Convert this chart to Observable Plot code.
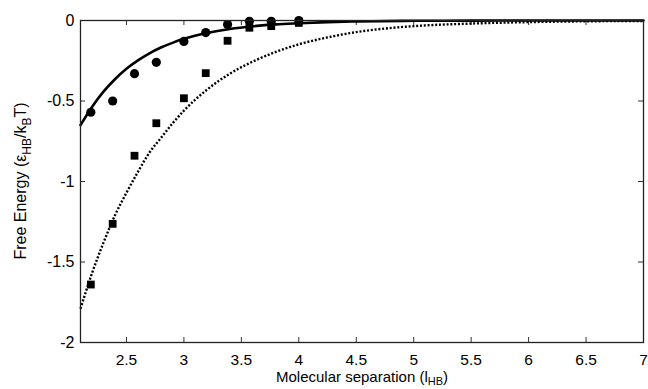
<!DOCTYPE html>
<html><head><meta charset="utf-8">
<script src="https://cdn.jsdelivr.net/npm/d3@7"></script>
<script src="https://cdn.jsdelivr.net/npm/@observablehq/plot@0.6"></script>
<style>html,body{margin:0;padding:0;background:#fff;}</style>
</head><body><div id="chart"></div>
<script>
// Simulation points (circles)
const circleX = [2.19, 2.38, 2.57, 2.76, 3.00, 3.19, 3.38, 3.57, 3.76, 4.00];
const circleY = [-0.57, -0.50, -0.33, -0.26, -0.13, -0.075, -0.025, -0.005, -0.005, 0.0];
// Simulation points (squares)
const squareX = [2.19, 2.38, 2.57, 2.76, 3.00, 3.19, 3.38, 3.57, 3.76, 4.00];
const squareY = [-1.64, -1.263, -0.84, -0.638, -0.483, -0.327, -0.126, -0.045, -0.035, -0.015];
// Solid curve
const solidX = [2.1, 2.2, 2.3, 2.4, 2.5, 2.6, 2.7, 2.8, 2.9, 3.0, 3.2, 3.4, 3.6, 3.8, 4.0, 4.25, 4.5, 5.0, 5.5, 6.0, 7.0];
const solidY = [-0.65, -0.537, -0.442, -0.365, -0.30, -0.248, -0.204, -0.168, -0.139, -0.114, -0.078, -0.053, -0.036, -0.024, -0.017, -0.010, -0.006, -0.002, -0.001, 0, 0];
// Dotted curve
const dottedX = [2.1, 2.2, 2.3, 2.4, 2.5, 2.6, 2.7, 2.8, 2.9, 3.0, 3.2, 3.4, 3.6, 3.8, 4.0, 4.25, 4.5, 4.75, 5.0, 5.5, 6.0, 6.5, 7.0];
const dottedY = [-1.79, -1.57, -1.38, -1.21, -1.07, -0.94, -0.82, -0.73, -0.64, -0.56, -0.43, -0.33, -0.255, -0.195, -0.148, -0.105, -0.072, -0.050, -0.035, -0.019, -0.010, -0.005, -0.003];
// Ticks
const xTicks = [2.5, 3, 3.5, 4, 4.5, 5, 5.5, 6, 6.5, 7];
const yTicks = [0, -0.5, -1, -1.5, -2];

const zip = (xs, ys) => xs.map((x, i) => ({x, y: ys[i]}));
const circles = zip(circleX, circleY);
const squares = zip(squareX, squareY);
const solid = zip(solidX, solidY);
const dotted = zip(dottedX, dottedY);

const W = 648, H = 389, ML = 80, MR = 5, MT = 20, MB = 47;
const TICK = 5;
const frameW = W - ML - MR, frameH = H - MT - MB;
const FONT = "'Liberation Sans', Arial, sans-serif";

const fmt = d => String(d);
const chart = Plot.plot({
  width: W, height: H,
  marginLeft: ML, marginRight: MR, marginTop: MT, marginBottom: MB,
  style: {fontFamily: FONT, fontSize: "16px", color: "#000", background: "#fff"},
  x: {domain: [2.1, 7]},
  y: {domain: [-2, 0]},
  marks: [
    Plot.axisX({anchor: "bottom", ticks: xTicks, tickSize: 0, tickPadding: 11, tickFormat: fmt, label: null, fontSize: 15.5}),
    Plot.axisY({anchor: "left", ticks: yTicks, tickSize: 0, tickPadding: 6, tickFormat: fmt, label: null, fontSize: 16}),
    // inward ticks on all four sides
    Plot.tickX(xTicks, {x: d => d, insetTop: frameH - TICK, stroke: "#333"}),
    Plot.tickX(xTicks, {x: d => d, insetBottom: frameH - TICK, stroke: "#333"}),
    Plot.tickY(yTicks, {y: d => d, insetRight: frameW - TICK, stroke: "#333"}),
    Plot.tickY(yTicks, {y: d => d, insetLeft: frameW - TICK, stroke: "#333"}),
    Plot.line(solid, {x: "x", y: "y", stroke: "#000", strokeWidth: 2.6, curve: "monotone-x"}),
    Plot.line(dotted, {x: "x", y: "y", stroke: "#000", strokeWidth: 2.4, strokeDasharray: "2 1.8", strokeLinecap: "butt", curve: "monotone-x"}),
    Plot.dot(circles, {x: "x", y: "y", r: 4.6, fill: "#000", stroke: "none"}),
    Plot.dot(squares, {x: "x", y: "y", r: 4.4, symbol: "square", fill: "#000", stroke: "none"}),
    Plot.frame({stroke: "#222", strokeWidth: 1.3})
  ]
});
document.getElementById("chart").appendChild(chart);

// Axis titles with subscripts
const svg = d3.select(chart);
const xl = svg.append("text")
  .attr("x", 362).attr("y", 382)
  .attr("text-anchor", "middle")
  .attr("font-family", FONT)
  .attr("font-size", 15).attr("fill", "#000");
xl.append("tspan").text("Molecular separation (l");
xl.append("tspan").attr("font-size", 11).attr("dy", 3).text("HB");
xl.append("tspan").attr("dy", -3).text(")");

const yl = svg.append("text")
  .attr("transform", "translate(26,181) rotate(-90)")
  .attr("text-anchor", "middle")
  .attr("font-family", FONT)
  .attr("font-size", 16).attr("fill", "#000");
yl.append("tspan").text("Free Energy (ε");
yl.append("tspan").attr("font-size", 12).attr("dy", 5).text("HB");
yl.append("tspan").attr("dy", -5).text("/k");
yl.append("tspan").attr("font-size", 12).attr("dy", 5).text("B");
yl.append("tspan").attr("dy", -5).text("T)");
</script>
</body></html>
